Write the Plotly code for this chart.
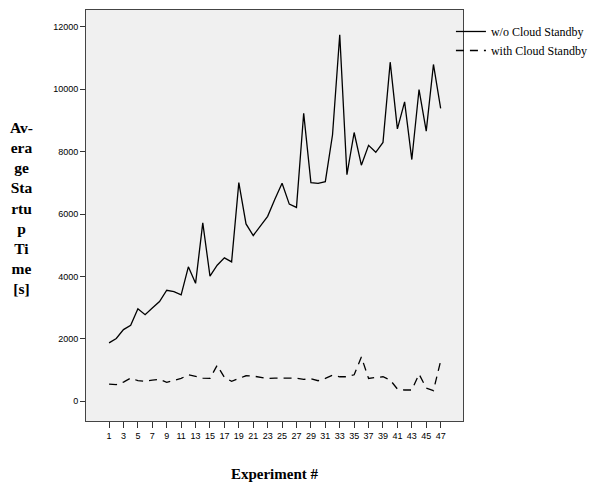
import plotly.graph_objects as go

experiments = list(range(1, 48))
without_standby = [1870, 2010, 2295, 2435, 2962, 2771, 2984, 3196, 3556, 3514,
                   3406, 4307, 3778, 5714, 4010, 4359, 4593, 4466, 7006, 5683,
                   5311, 5609, 5926, 6476, 6984, 6317, 6212, 9228, 7006, 6984,
                   7038, 8540, 11746, 7260, 8613, 7565, 8200, 7978, 8296, 10867,
                   8730, 9597, 7746, 9990, 8656, 10794, 9384]
with_standby = [549, 530, 613, 740, 657, 635, 677, 698, 603, 657,
                730, 847, 783, 740, 730, 1152, 762, 635, 730, 815,
                804, 762, 730, 740, 740, 762, 740, 698, 720, 657,
                730, 836, 783, 783, 847, 1418, 730, 762, 783, 677,
                390, 359, 359, 868, 423, 338, 1292]
y_ticks = [0, 2000, 4000, 6000, 8000, 10000, 12000]
y_tick_labels = ["0", "2000", "4000", "6000", "8000", "10000", "12000"]
x_ticks = list(range(1, 48, 2))

fig = go.Figure()
fig.add_trace(go.Scatter(x=experiments, y=without_standby, mode="lines",
                         name="w/o Cloud Standby",
                         line=dict(color="black", width=1.3)))
fig.add_trace(go.Scatter(x=experiments, y=with_standby, mode="lines",
                         name="with Cloud Standby",
                         line=dict(color="black", width=1.3, dash="8px,6px")))

fig.update_layout(
    width=591, height=474,
    margin=dict(l=78, r=136, t=1, b=58),
    paper_bgcolor="white",
    plot_bgcolor="#f0f0f0",
    showlegend=True,
    legend=dict(x=0.968, y=0.983, xanchor="left", yanchor="top",
                bgcolor="rgba(0,0,0,0)", borderwidth=0,
                font=dict(family="Liberation Serif", size=12, color="black"),
                tracegroupgap=0),
    font=dict(family="Liberation Sans", size=9, color="black"),
)
fig.update_xaxes(range=[-2.2, 50.1], tickmode="array", tickvals=x_ticks,
                 ticks="outside", ticklen=6, tickwidth=1, tickcolor="#333",
                 showgrid=False, zeroline=False, showline=True, linecolor="#444",
                 linewidth=1, mirror=True,
                 tickfont=dict(family="Liberation Sans", size=9),
                 title=dict(text="<b>Experiment #</b>", standoff=30,
                            font=dict(family="Liberation Serif", size=15)))
fig.update_yaxes(range=[-635, 12540], tickmode="array", tickvals=y_ticks,
                 ticktext=y_tick_labels,
                 ticks="outside", ticklen=5, tickwidth=1, tickcolor="#333",
                 showgrid=False, zeroline=False, showline=True, linecolor="#444",
                 linewidth=1, mirror=True,
                 tickfont=dict(family="Liberation Sans", size=9))
fig.add_annotation(xref="paper", yref="paper", x=-0.17, y=0.519,
                   xanchor="center", yanchor="middle", showarrow=False,
                   align="center",
                   text="<b>Av-<br>era<br>ge<br>Sta<br>rtu<br>p<br>Ti<br>me<br>[s]</b>",
                   font=dict(family="Liberation Serif", size=15.5, color="black"))

fig.write_html("out.html")
